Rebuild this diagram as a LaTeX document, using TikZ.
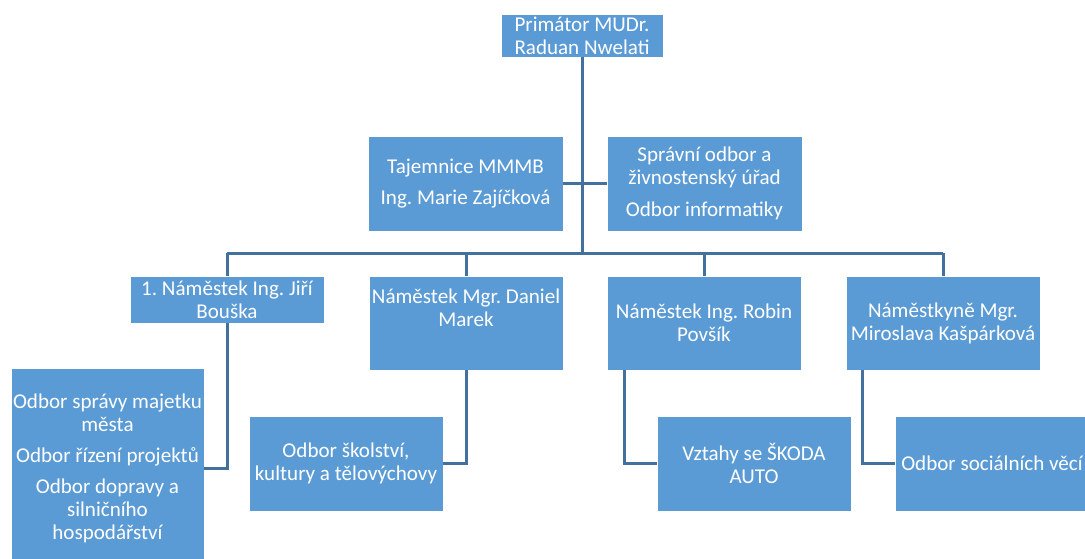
\documentclass[tikz,border=0pt]{standalone}
\usepackage{fontspec}
\setmainfont{Carlito}
\usepackage{tikz}
\frenchspacing
\definecolor{boxblue}{RGB}{91,155,213}
\definecolor{lineblue}{RGB}{65,113,156}
\tikzset{
    orgbox/.style={
        draw=white, line width=0.6pt, fill=boxblue, text=white,
        align=center, inner xsep=1pt, inner ysep=2pt,
        minimum width=145.5pt,
        font=\fontsize{15.8pt}{17.25pt}\selectfont,
    },
    link/.style={draw=lineblue, line width=2.25pt},
}

\begin{document}
\begin{tikzpicture}[x=0.75pt,y=-0.75pt]
\useasboundingbox (0,0) rectangle (1085,558);

% Primator
\node[orgbox,minimum width=121.5pt,minimum height=30.75pt] (top) at (582,35.5) {Primátor MUDr.\\Raduan Nwelati};

% Staff
\node[orgbox,minimum width=146.25pt,minimum height=71.25pt] (taj) at (465.5,183.5) {Tajemnice MMMB\\[6pt]Ing. Marie Zajíčková};
\node[orgbox,minimum width=146.25pt,minimum height=71.25pt] (spr) at (704.5,183.5) {Správní odbor a\\živnostenský úřad\\[7pt]Odbor informatiky};

% Deputies
\node[orgbox,minimum height=35.25pt] (b1) at (227,299.5) {1. Náměstek Ing. Jiří\\Bouška};
\node[orgbox,minimum height=70.5pt] (b2) at (466,323) {Náměstek Mgr. Daniel\\Marek\\\strut};
\node[orgbox,minimum height=70.5pt] (b3) at (704,323) {Náměstek Ing. Robin\\Povšík};
\node[orgbox,minimum height=70.5pt] (b4) at (943,323) {Náměstkyně Mgr.\\Miroslava Kašpárková};

% Departments
\node[orgbox,minimum width=144.75pt,minimum height=150pt] (l1) at (107.5,468) {Odbor správy majetku\\města\\[6pt]Odbor řízení projektů\\[6pt]Odbor dopravy a\\silničního\\hospodářství};
\node[orgbox,minimum height=71.25pt] (l2) at (346,463.5) {Odbor školství,\\kultury a tělovýchovy};
\node[orgbox,minimum height=71.25pt] (l3) at (754,463.5) {Vztahy se ŠKODA\\AUTO};
\node[orgbox,minimum height=71.25pt] (l4) at (992,463.5) {Odbor sociálních věcí};

% Trunk and bus
\coordinate (bus) at (582,253);
\draw[link] (top) -- (bus);
\draw[link] (taj) -- (spr);
\draw[link] (b1.north |- bus) -- (b4.north |- bus);
\foreach \n in {b1,b2,b3,b4}
    \draw[link] (\n.north |- bus) -- (\n.north);

% Deputies -> departments
\draw[link] (b1) |- (l1);
\draw[link] (b2) |- (l2);
\draw[link] ([xshift=13.5pt]b3.south west) |- (l3.west);
\draw[link] ([xshift=12.75pt]b4.south west) |- (l4.west);
\end{tikzpicture}
\end{document}
